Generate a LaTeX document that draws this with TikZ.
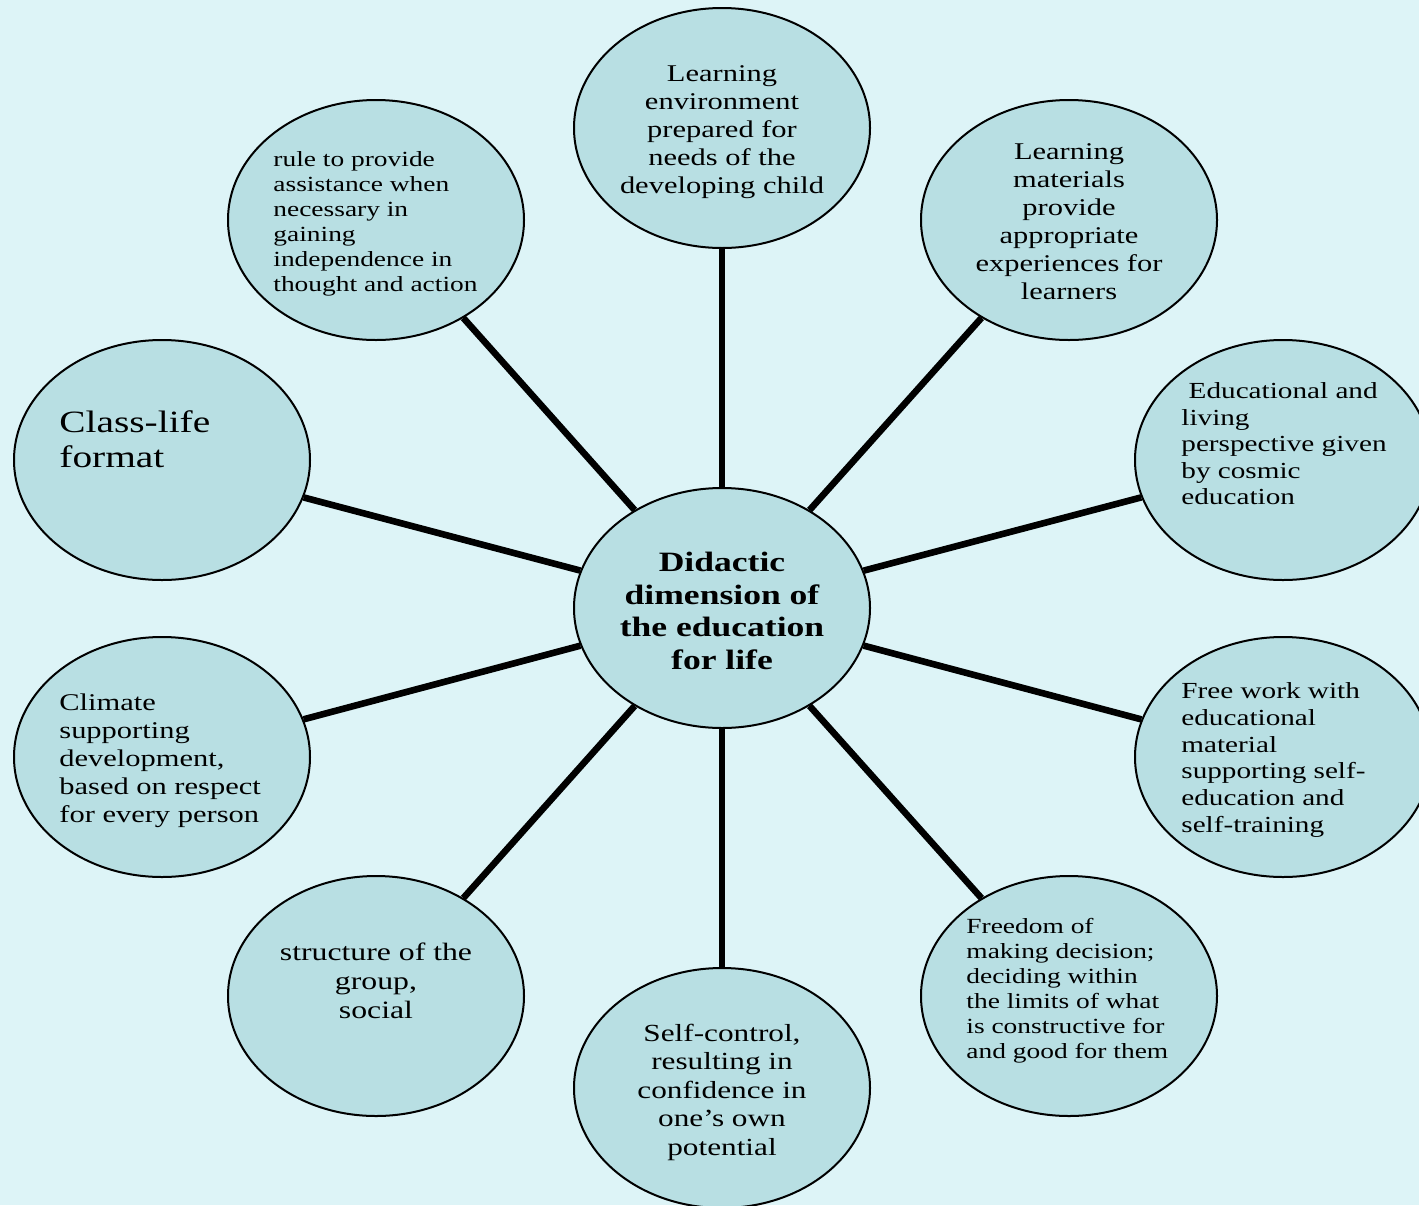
\documentclass[tikz,border=0pt]{standalone}
\usepackage{fontspec}
\setmainfont{Liberation Serif}[FakeStretch=1.27]
\usetikzlibrary{shapes.geometric}
\definecolor{bgcol}{RGB}{221,244,247}
\definecolor{bubblefill}{RGB}{184,223,227}
\tikzset{
  bubble/.style={ellipse, draw=black, line width=1pt, fill=bubblefill,
    minimum width=148pt, minimum height=120pt, inner sep=0pt},
  spoke/.style={line width=3.3pt, draw=black},
  label/.style={inner sep=0pt, text=black},
}
\newcommand\fsz[2]{\fontsize{#1}{#2}\selectfont}
\begin{document}
\begin{tikzpicture}[x=0.5pt, y=-0.5pt]
  % page and background
  \fill[bgcol] (0,0) rectangle (1419,1205);
  \useasboundingbox (0,0) rectangle (1419,1205);
  \clip (0,0) rectangle (1419,1205);

  % bubbles
  \node[bubble] (hub) at (722,608) {};
  \node[bubble] (n) at (722,128) {};
  \node[bubble] (ne) at (1069,220) {};
  \node[bubble] (e1) at (1283,460) {};
  \node[bubble] (e2) at (1283,757) {};
  \node[bubble] (se) at (1069,996) {};
  \node[bubble] (s) at (722,1088) {};
  \node[bubble] (sw) at (376,996) {};
  \node[bubble] (w2) at (162,757) {};
  \node[bubble] (w1) at (162,460) {};
  \node[bubble] (nw) at (376,220) {};

  % spokes
  \foreach \b in {n,ne,e1,e2,se,s,sw,w2,w1,nw}
    \draw[spoke] (hub) -- (\b);

  % texts
  \node[label, align=center, font=\bfseries\fsz{14}{16.2}] (thub) at (722,611)
    {Didactic\\dimension of\\the education\\for life};
  \node[label, align=center, font=\fsz{12}{14}] (tn) at (722,132)
    {Learning\\environment\\prepared for\\needs of the\\developing child};
  \node[label, align=center, font=\fsz{12}{14}] (tne) at (1069,222)
    {Learning\\materials\\provide\\appropriate\\experiences for\\learners};
  \node[label, align=left, anchor=west, font=\fsz{11.5}{13.25}] (te1) at (1181,444)
    {\ Educational and\\living\\perspective given\\by cosmic\\education};
  \node[label, align=left, anchor=west, font=\fsz{11.5}{13.35}] (te2) at (1181,760)
    {Free work with\\educational\\material\\supporting self-\\education and\\self-training};
  \node[label, align=left, anchor=west, font=\fsz{10.8}{12.5}] (tse) at (966,991)
    {Freedom of\\making decision;\\deciding within\\the limits of what\\is constructive for\\and good for them};
  \node[label, align=center, font=\fsz{12.3}{14.25}] (ts) at (722,1092)
    {Self-control,\\resulting in\\confidence in\\one’s own\\potential};
  \node[label, align=center, font=\fsz{12.5}{14.5}] (tsw) at (376,981)
    {structure of the\\group,\\social};
  \node[label, align=left, anchor=west, font=\fsz{12}{14}] (tw2) at (59,761)
    {Climate\\supporting\\development,\\based on respect\\for every person};
  \node[label, align=left, anchor=west, font=\fsz{15.5}{17.4}] (tw1) at (59,439)
    {Class-life\\format};
  \node[label, align=left, anchor=west, font=\fsz{10.8}{12.5}] (tnw) at (273,224)
    {rule to provide\\assistance when\\necessary in\\gaining\\independence in\\thought and action};
\end{tikzpicture}
\end{document}
